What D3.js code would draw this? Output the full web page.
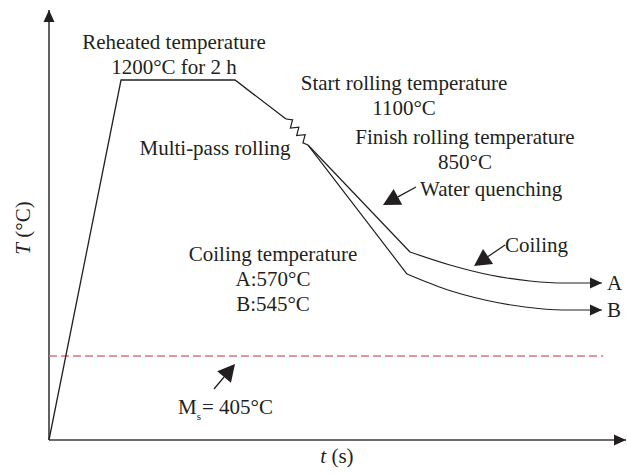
<!DOCTYPE html>
<html>
<head>
<meta charset="utf-8">
<script src="https://cdn.jsdelivr.net/npm/d3@7"></script>
<style>
	body { margin: 0; background: #fff; }
	text { font-family: "Liberation Serif", "Times New Roman", serif; font-size: 21px; fill: #231f20; }
</style>
</head>
<body>
<script>
var width = 627,
	height = 474;

// Schematic process, x = time, y = temperature (both in 0-100 units)
var heating = [[0, 0], [12.57, 83.72], [32.46, 83.72], [41.36, 74.65]];
var rolling = [[41.36, 74.65], [45.2, 68.6]];
var quenchA = [[45.2, 68.6], [63.0, 43.72]];
var quenchB = [[45.2, 68.6], [62.48, 38.6]];
var coilA = [[63.0, 43.72], [69.98, 40.7], [76.96, 38.37], [83.94, 36.98], [90.05, 36.51], [96.5, 36.51]];
var coilB = [[62.48, 38.6], [69.11, 35.12], [76.09, 32.56], [83.07, 30.93], [89.53, 30.23], [96.5, 30.23]];
var msLevel = 19.53;
var msEnd = 96.7;

var branchNames = ["A", "B"];
var labelLines = [
	["Reheated temperature", "1200\u00B0C for 2 h"],
	["Start rolling temperature", "1100\u00B0C"],
	["Finish rolling temperature", "850\u00B0C"],
	["Coiling temperature", "A:570\u00B0C", "B:545\u00B0C"]
];

var x = d3.scaleLinear().domain([0, 100]).range([49, 622]);
var y = d3.scaleLinear().domain([0, 100]).range([440, 10]);

var svg = d3.select("body").append("svg")
	.attr("width", width)
	.attr("height", height);

var defs = svg.append("defs");
defs.append("marker")
	.attr("id", "tip")
	.attr("markerUnits", "userSpaceOnUse")
	.attr("markerWidth", 14)
	.attr("markerHeight", 12)
	.attr("refX", 12)
	.attr("refY", 6)
	.attr("orient", "auto")
	.append("path")
	.attr("d", "M0,0.5 L12,6 L0,11.5 Z")
	.attr("fill", "#231f20");

// Axes (no ticks, just arrows)
svg.append("line")
	.attr("x1", x(0)).attr("y1", y(0))
	.attr("x2", x(0)).attr("y2", y(100))
	.attr("stroke", "#3a3a3a")
	.attr("stroke-width", 1.6)
	.attr("marker-end", "url(#tip)");
svg.append("line")
	.attr("x1", x(0)).attr("y1", y(0))
	.attr("x2", x(100) + 4).attr("y2", y(0))
	.attr("stroke", "#3a3a3a")
	.attr("stroke-width", 1.6)
	.attr("marker-end", "url(#tip)");

// Ms line
svg.append("line")
	.attr("x1", x(0)).attr("y1", y(msLevel))
	.attr("x2", x(msEnd)).attr("y2", y(msLevel))
	.attr("stroke", "#d9777a")
	.attr("stroke-width", 1.3)
	.attr("stroke-dasharray", "8,4");

var line = d3.line()
	.x(function(d) { return x(d[0]); })
	.y(function(d) { return y(d[1]); });

var curve = d3.line()
	.x(function(d) { return x(d[0]); })
	.y(function(d) { return y(d[1]); })
	.curve(d3.curveMonotoneX);

svg.append("path")
	.attr("d", line(heating))
	.attr("fill", "none")
	.attr("stroke", "#231f20")
	.attr("stroke-width", 1.3);

// Zigzag for multi-pass rolling
var p0 = [x(rolling[0][0]), y(rolling[0][1])],
	p1 = [x(rolling[1][0]), y(rolling[1][1])];
var dx = p1[0] - p0[0], dy = p1[1] - p0[1], len = Math.sqrt(dx * dx + dy * dy);
var nx = dy / len, ny = -dx / len;
var zig = [p0];
var teeth = 7;
for (var i = 1; i < teeth; i++) {
	var t = i / teeth;
	var s = (i % 2 == 1) ? 4.5 : -2.5;
	zig.push([p0[0] + dx * t + nx * s, p0[1] + dy * t + ny * s]);
}
zig.push(p1);
svg.append("path")
	.attr("d", d3.line()(zig))
	.attr("fill", "none")
	.attr("stroke", "#231f20")
	.attr("stroke-width", 1.2);

[quenchA, quenchB].forEach(function(d) {
	svg.append("path")
		.attr("d", line(d))
		.attr("fill", "none")
		.attr("stroke", "#231f20")
		.attr("stroke-width", 1.2);
});
[coilA, coilB].forEach(function(d) {
	svg.append("path")
		.attr("d", curve(d))
		.attr("fill", "none")
		.attr("stroke", "#231f20")
		.attr("stroke-width", 1.2)
		.attr("marker-end", "url(#tip)");
});

// Big-headed annotation arrows: start point -> tip (pixels)
function pointer(s, t) {
	var ux = t[0] - s[0], uy = t[1] - s[1], l = Math.sqrt(ux * ux + uy * uy);
	ux /= l; uy /= l;
	var b = [t[0] - ux * 17, t[1] - uy * 17];
	svg.append("line")
		.attr("x1", s[0]).attr("y1", s[1])
		.attr("x2", b[0]).attr("y2", b[1])
		.attr("stroke", "#231f20")
		.attr("stroke-width", 1.3);
	svg.append("path")
		.attr("d", "M" + t + "L" + [b[0] - uy * 9, b[1] + ux * 9] + "L" + [b[0] + uy * 9, b[1] - ux * 9] + "Z")
		.attr("fill", "#231f20");
}
pointer([416, 187], [383, 205]);
pointer([505, 245], [474, 266]);
pointer([214, 389], [235, 364]);

// Labels
function block(lines, cx, by) {
	lines.forEach(function(s, i) {
		svg.append("text")
			.attr("x", cx)
			.attr("y", by + i * 25)
			.attr("text-anchor", "middle")
			.text(s);
	});
}
block(labelLines[0], 174, 49);
block(labelLines[1], 404, 90);
block(labelLines[2], 465, 144);
block(labelLines[3], 273, 261);

svg.append("text").attr("x", 215).attr("y", 155).attr("text-anchor", "middle").text("Multi-pass rolling");
svg.append("text").attr("x", 420).attr("y", 196).text("Water quenching");
svg.append("text").attr("x", 505).attr("y", 252).text("Coiling");

svg.selectAll(".branch")
	.data(branchNames)
	.enter().append("text")
	.attr("class", "branch")
	.attr("x", 607)
	.attr("y", function(d, i) { return [y(coilA[5][1]), y(coilB[5][1])][i] + 7; })
	.text(function(d) { return d; });

var ms = svg.append("text").attr("x", 178).attr("y", 414);
ms.append("tspan").text("M");
ms.append("tspan").attr("dy", 6).style("font-size", "11px").text("s");
ms.append("tspan").attr("dy", -6).attr("dx", 1).text("= 405\u00B0C");

var xl = svg.append("text").attr("x", 337).attr("y", 463).attr("text-anchor", "middle");
xl.append("tspan").style("font-style", "italic").text("t");
xl.append("tspan").text(" (s)");

var yl = svg.append("text")
	.attr("transform", "translate(30,228) rotate(-90)")
	.attr("text-anchor", "middle");
yl.append("tspan").style("font-style", "italic").text("T");
yl.append("tspan").text(" (\u00B0C)");
</script>
</body>
</html>
